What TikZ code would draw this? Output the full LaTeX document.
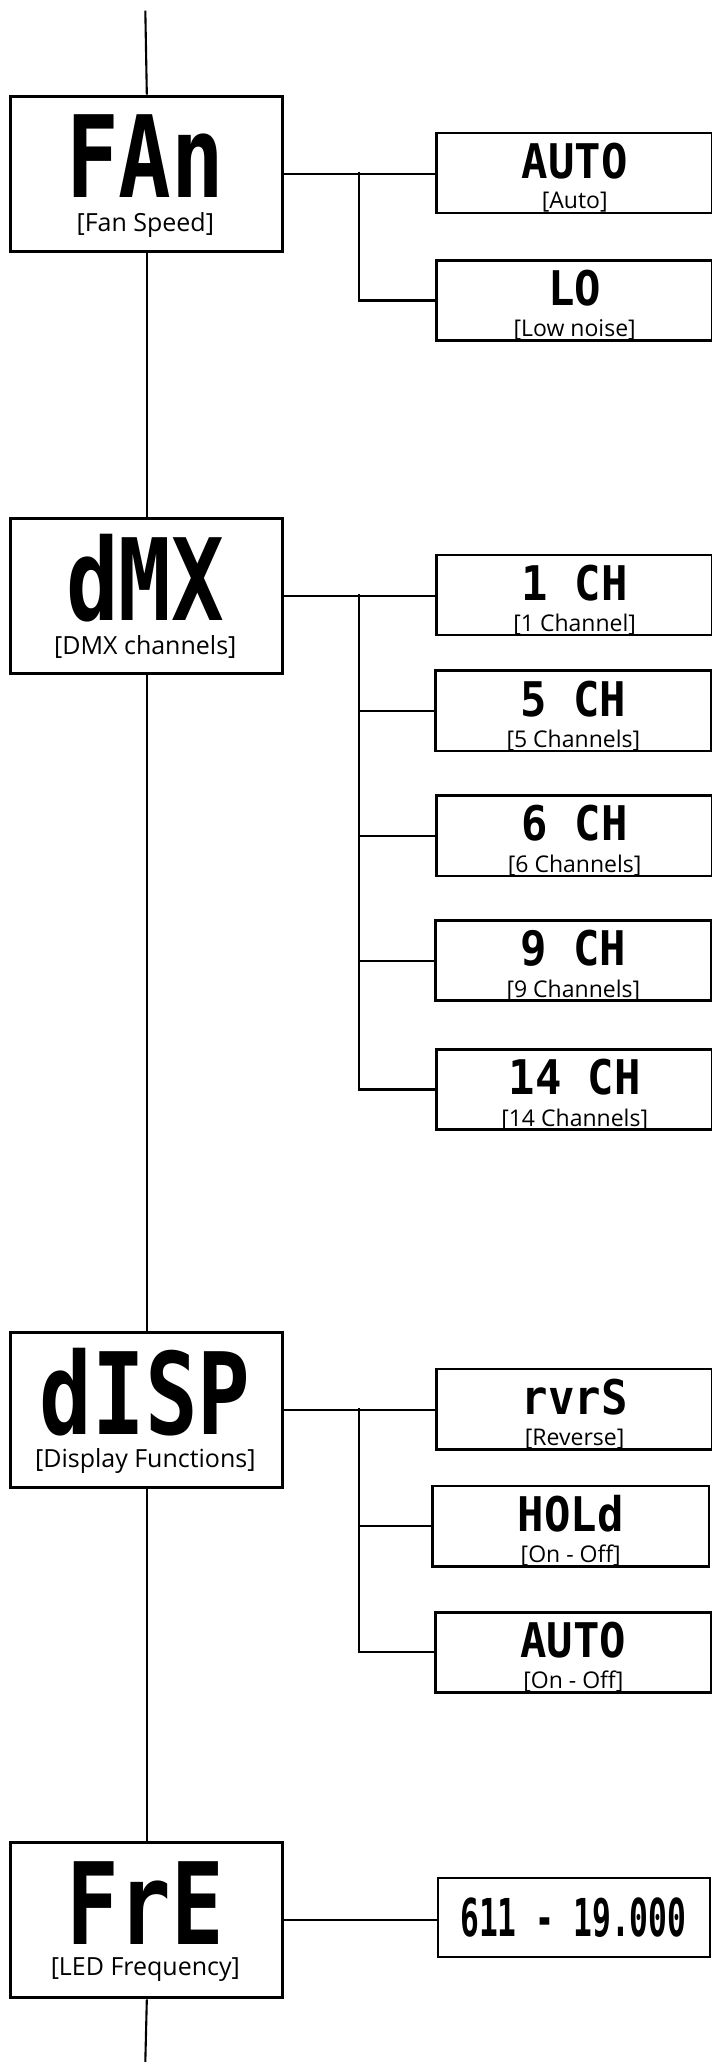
\documentclass[tikz,border=0pt]{standalone}
\usepackage{fontspec}
\setmainfont{Open Sans}
\newfontfamily\lcdbig[FakeStretch=0.77]{DejaVu Sans Mono}
\newfontfamily\lcdsmall[FakeStretch=0.92]{DejaVu Sans Mono}
\newfontfamily\lcdnarrow[FakeStretch=0.6]{DejaVu Sans Mono}
\begin{document}
\begin{tikzpicture}[x=1pt,y=-1pt,
  mainbox/.style={draw, line width=2.3pt, minimum width=207pt, minimum height=118pt, inner sep=0pt, anchor=north west},
  subbox/.style={draw, line width=2pt, minimum width=210pt, minimum height=61pt, inner sep=0pt, anchor=north west},
  bigtxt/.style={font=\lcdbig\bfseries\fontsize{86.4}{86}\selectfont, inner sep=0pt, text height=63pt, text depth=0pt, anchor=base},
  smalltxt/.style={font=\lcdsmall\bfseries\fontsize{36.3}{36}\selectfont, inner sep=0pt, text height=26.5pt, text depth=0pt, anchor=base, yshift=-4pt},
  lbl/.style={font=\fontsize{19}{19}\selectfont, inner sep=0pt, anchor=center},
  slbl/.style={font=\fontsize{17.5}{17.5}\selectfont, inner sep=0pt, anchor=center, yshift=-22.5pt},
  conn/.style={line width=1.6pt}]
\useasboundingbox (0,0) rectangle (541,1568);
\fill[white] (0,0) rectangle (541,1568);

% main boxes
\node[mainbox] (fan) at (7,72) {};
\node[mainbox] (dmx) at (7,393) {};
\node[mainbox] (disp) at (7,1012) {};
\node[mainbox] (fre) at (7,1400) {};

\node[bigtxt] (fant) at (110.5,150.5) {FAn};
\node[lbl] (fanl) at (110.5,171) {[Fan Speed]};
\node[bigtxt] (dmxt) at (110.5,471.5) {dMX};
\node[lbl] (dmxl) at (110.5,492) {[DMX channels]};
\node[bigtxt] (dispt) at (110.5,1090.5) {dISP};
\node[lbl] (displ) at (110.5,1111) {[Display Functions]};
\node[bigtxt] (fret) at (110.5,1478.5) {FrE};
\node[lbl] (frel) at (110.5,1498) {[LED Frequency]};

% sub boxes
\node[subbox] (auto) at (331,100) {};
\node[smalltxt] at (auto.center) {AUTO};
\node[slbl] at (auto.center) {[Auto]};
\node[subbox] (lo) at (331,197) {};
\node[smalltxt] at (lo.center) {LO};
\node[slbl] at (lo.center) {[Low noise]};

\node[subbox] (ch1) at (331,421) {};
\node[smalltxt] at (ch1.center) {1 CH};
\node[slbl] at (ch1.center) {[1 Channel]};
\node[subbox] (ch5) at (330,509) {};
\node[smalltxt] at (ch5.center) {5 CH};
\node[slbl] at (ch5.center) {[5 Channels]};
\node[subbox] (ch6) at (331,604) {};
\node[smalltxt] at (ch6.center) {6 CH};
\node[slbl] at (ch6.center) {[6 Channels]};
\node[subbox] (ch9) at (330,699) {};
\node[smalltxt] at (ch9.center) {9 CH};
\node[slbl] at (ch9.center) {[9 Channels]};
\node[subbox] (ch14) at (331,797) {};
\node[smalltxt] at (ch14.center) {14 CH};
\node[slbl] at (ch14.center) {[14 Channels]};

\node[subbox] (rvrs) at (331,1040) {};
\node[smalltxt] at (rvrs.center) {rvrS};
\node[slbl] at (rvrs.center) {[Reverse]};
\node[subbox] (hold) at (328,1129) {};
\node[smalltxt] at (hold.center) {HOLd};
\node[slbl] at (hold.center) {[On - Off]};
\node[subbox] (auto2) at (330,1225) {};
\node[smalltxt] at (auto2.center) {AUTO};
\node[slbl] at (auto2.center) {[On - Off]};

\node[subbox, minimum width=207pt, minimum height=60pt] (freq) at (332,1427) {};
\node[font=\lcdnarrow\bfseries\fontsize{39.7}{40}\selectfont, inner sep=0pt, text height=29pt, text depth=0pt, anchor=base] at (436,1472.5) {611 - 19.000};

% main spine
\coordinate (top) at (110.5,8);
\coordinate (bot) at (110.5,1568);
\draw[conn] (top) -- (fan.north);
\draw[conn] (fan.south) -- (dmx.north);
\draw[conn] (dmx.south) -- (disp.north);
\draw[conn] (disp.south) -- (fre.north);
\draw[conn] (fre.south) -- (bot);

% branches
\coordinate (bfan) at (273,131);
\draw[conn] (fan.east) -- (fan.east -| auto.west);
\draw[conn] (bfan) |- (lo.west);

\coordinate (bdmx) at (273,452);
\draw[conn] (dmx.east) -- (dmx.east -| ch1.west);
\draw[conn] (bdmx) |- (ch14.west);
\draw[conn] (bdmx) |- (ch5.west);
\draw[conn] (bdmx) |- (ch6.west);
\draw[conn] (bdmx) |- (ch9.west);

\coordinate (bdisp) at (273,1071);
\draw[conn] (disp.east) -- (disp.east -| rvrs.west);
\draw[conn] (bdisp) |- (auto2.west);
\draw[conn] (bdisp) |- (hold.west);

\draw[conn] (fre.east) -- (fre.east -| freq.west);
\end{tikzpicture}
\end{document}
